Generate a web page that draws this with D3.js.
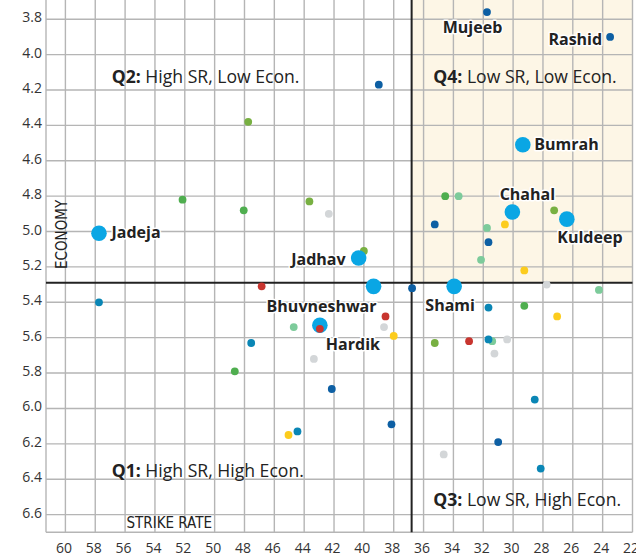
<!DOCTYPE html>
<html>
<head>
<meta charset="utf-8">
<script src="https://cdn.jsdelivr.net/npm/d3@7"></script>
<style>
  body { margin: 0; background: #fff; }
  svg { display: block; font-family: "Open Sans", "Noto Sans", sans-serif; }
</style>
</head>
<body>
<svg id="chart" width="636" height="560"></svg>
<script>
// bowlers: name ("" = unlabelled), strike rate, economy, colour group
const names = ["Mujeeb", "Rashid", "", "", "Bumrah", "", "", "", "", "", "", "", "Chahal", "Kuldeep",
    "", "", "", "Jadeja", "", "", "Jadhav", "", "", "", "", "", "Bhuvneshwar", "", "Shami",
    "", "", "", "", "", "", "", "Hardik", "", "", "", "", "", "", "", "", "", "", "", "", "", "", "", "", "", "", ""];
const strikeRate = [31.75, 23.5, 39.0, 47.75, 29.35, 52.15, 43.65, 48.05, 42.35, 34.55, 33.65, 27.25, 30.05, 26.4,
    35.25, 30.55, 31.75, 57.75, 31.65, 40.0, 40.35, 32.15, 29.25, 27.75, 24.25, 46.85, 39.35, 36.77, 33.95,
    57.75, 31.65, 29.25, 38.55, 27.05, 38.65, 44.7, 42.95, 42.95, 38.0, 35.25, 32.95, 31.4, 31.65, 30.4,
    47.55, 31.25, 43.35, 48.65, 42.15, 28.55, 38.15, 44.45, 45.05, 31.0, 34.65, 28.15];
const economy = [3.76, 3.90, 4.17, 4.38, 4.51, 4.82, 4.83, 4.88, 4.90, 4.80, 4.80, 4.88, 4.89, 4.93,
    4.96, 4.96, 4.98, 5.01, 5.06, 5.11, 5.15, 5.16, 5.22, 5.30, 5.33, 5.31, 5.31, 5.32, 5.31,
    5.40, 5.43, 5.42, 5.48, 5.48, 5.54, 5.54, 5.53, 5.55, 5.59, 5.63, 5.62, 5.62, 5.61, 5.61,
    5.63, 5.69, 5.72, 5.79, 5.89, 5.95, 6.09, 6.13, 6.15, 6.19, 6.26, 6.34];
const group = ["darkblue", "darkblue", "darkblue", "olive", "india", "green", "olive", "green", "gray", "green", "lightgreen", "olive", "india", "india",
    "darkblue", "yellow", "lightgreen", "india", "darkblue", "olive", "india", "lightgreen", "yellow", "gray", "lightgreen", "red", "india", "darkblue", "india",
    "teal", "teal", "green", "red", "yellow", "gray", "lightgreen", "india", "red", "yellow", "olive", "red", "lightgreen", "teal", "gray",
    "teal", "gray", "gray", "green", "darkblue", "teal", "darkblue", "teal", "yellow", "darkblue", "gray", "teal"];

const xTicks = d3.range(60, 21, -2);
const yTicks = d3.range(3.8, 6.61, 0.2);
const avgStrikeRate = 36.8;
const avgEconomy = 5.29;

const quadrants = [
    { q: "Q1:", text: " High SR, High Econ.", sr: 56.9, econ: 6.39 },
    { q: "Q2:", text: " High SR, Low Econ.", sr: 56.9, econ: 4.16 },
    { q: "Q3:", text: " Low SR, High Econ.", sr: 35.35, econ: 6.55 },
    { q: "Q4:", text: " Low SR, Low Econ.", sr: 35.35, econ: 4.16 }
];

const colors = {
    india: "#0aa6e4", darkblue: "#0d5fa3", teal: "#0a86b5", green: "#4fae4f", olive: "#78b042",
    lightgreen: "#7dcb9b", gray: "#d3d6d8", red: "#c8352f", yellow: "#fccc1d"
};

// where each name label sits relative to its dot
const labelPlace = {
    Mujeeb: [-14.5, 21, "middle"], Rashid: [-8, 8, "end"], Bumrah: [11.5, 5, "start"],
    Chahal: [15, -12, "middle"], Kuldeep: [-9.5, 24, "start"], Jadeja: [12.5, 5, "start"],
    Jadhav: [-13, 7, "end"], Bhuvneshwar: [-52, 26, "middle"], Hardik: [6, 24.5, "start"],
    Shami: [-4, 25, "middle"]
};

const svg = d3.select("#chart");
const plotLeft = 46, plotRight = 632.5, plotTop = 1.5, plotBottom = 532.3;

const x = d3.scaleLinear().domain([61.3, 22]).range([plotLeft, plotRight]);
const y = d3.scaleLinear().domain([3.7, 6.7]).range([plotTop, plotBottom]);

// shaded Q4 box
svg.append("rect")
    .attr("x", x(avgStrikeRate)).attr("y", 0)
    .attr("width", plotRight - x(avgStrikeRate)).attr("height", y(avgEconomy))
    .attr("fill", "#fdf6e6");

//grid
const grid = svg.append("g").attr("stroke", "#b5b5b5").attr("stroke-width", 1.4);
grid.selectAll(".vx").data(xTicks).join("line")
    .attr("x1", d => x(d)).attr("x2", d => x(d)).attr("y1", 0).attr("y2", plotBottom);
grid.selectAll(".hy").data(yTicks).join("line")
    .attr("x1", plotLeft).attr("x2", plotRight).attr("y1", d => y(d)).attr("y2", d => y(d));
grid.append("line").attr("x1", plotLeft).attr("x2", plotLeft).attr("y1", 0).attr("y2", plotBottom);
grid.append("line").attr("x1", plotLeft).attr("x2", plotRight).attr("y1", plotBottom).attr("y2", plotBottom);

// tick labels
svg.append("g").selectAll("text").data(xTicks).join("text")
    .attr("x", d => x(d) - 1.5).attr("y", 553)
    .attr("text-anchor", "middle").attr("font-size", 14).attr("fill", "#333")
    .text(d => d);
svg.append("g").selectAll("text").data(yTicks).join("text")
    .attr("x", 42).attr("y", d => y(d) + 3)
    .attr("text-anchor", "end").attr("font-size", 14).attr("fill", "#333")
    .text(d => d3.format(".1f")(d));

// axis titles
const narrow = '"Liberation Sans Narrow", "DejaVu Sans Condensed", sans-serif';
svg.append("text")
    .attr("transform", "translate(66.5,269) rotate(-90)")
    .attr("font-family", narrow).attr("font-size", 15).attr("fill", "#222")
    .text("ECONOMY");
svg.append("text")
    .attr("x", 126.5).attr("y", 527.5)
    .attr("font-family", narrow).attr("font-size", 15).attr("fill", "#222")
    .text("STRIKE RATE");

// quadrant dividers
svg.append("line")
    .attr("x1", plotLeft).attr("x2", plotRight).attr("y1", y(avgEconomy)).attr("y2", y(avgEconomy))
    .attr("stroke", "#222").attr("stroke-width", 2);
svg.append("line")
    .attr("x1", x(avgStrikeRate)).attr("x2", x(avgStrikeRate)).attr("y1", 0).attr("y2", plotBottom)
    .attr("stroke", "#222").attr("stroke-width", 2);

// quadrant labels
const ql = svg.append("g").selectAll("text").data(quadrants).join("text")
    .attr("x", d => x(d.sr)).attr("y", d => y(d.econ))
    .attr("font-size", 17.6).attr("fill", "#222");
ql.append("tspan").attr("font-weight", "bold").text(d => d.q);
ql.append("tspan").text(d => d.text);

// dots
const idx = d3.range(names.length);
svg.append("g").selectAll("circle").data(idx).join("circle")
    .attr("cx", i => x(strikeRate[i]))
    .attr("cy", i => y(economy[i]))
    .attr("r", i => group[i] === "india" ? 7.8 : 3.9)
    .attr("fill", i => colors[group[i]]);

// name labels
svg.append("g").selectAll("text").data(idx.filter(i => names[i] !== "")).join("text")
    .attr("x", i => x(strikeRate[i]) + labelPlace[names[i]][0])
    .attr("y", i => y(economy[i]) + labelPlace[names[i]][1])
    .attr("text-anchor", i => labelPlace[names[i]][2])
    .attr("font-size", 16).attr("font-weight", "bold").attr("fill", "#222")
    .attr("stroke", "#fff").attr("stroke-width", 3).attr("stroke-linejoin", "round")
    .attr("paint-order", "stroke")
    .text(i => names[i]);
</script>
</body>
</html>
